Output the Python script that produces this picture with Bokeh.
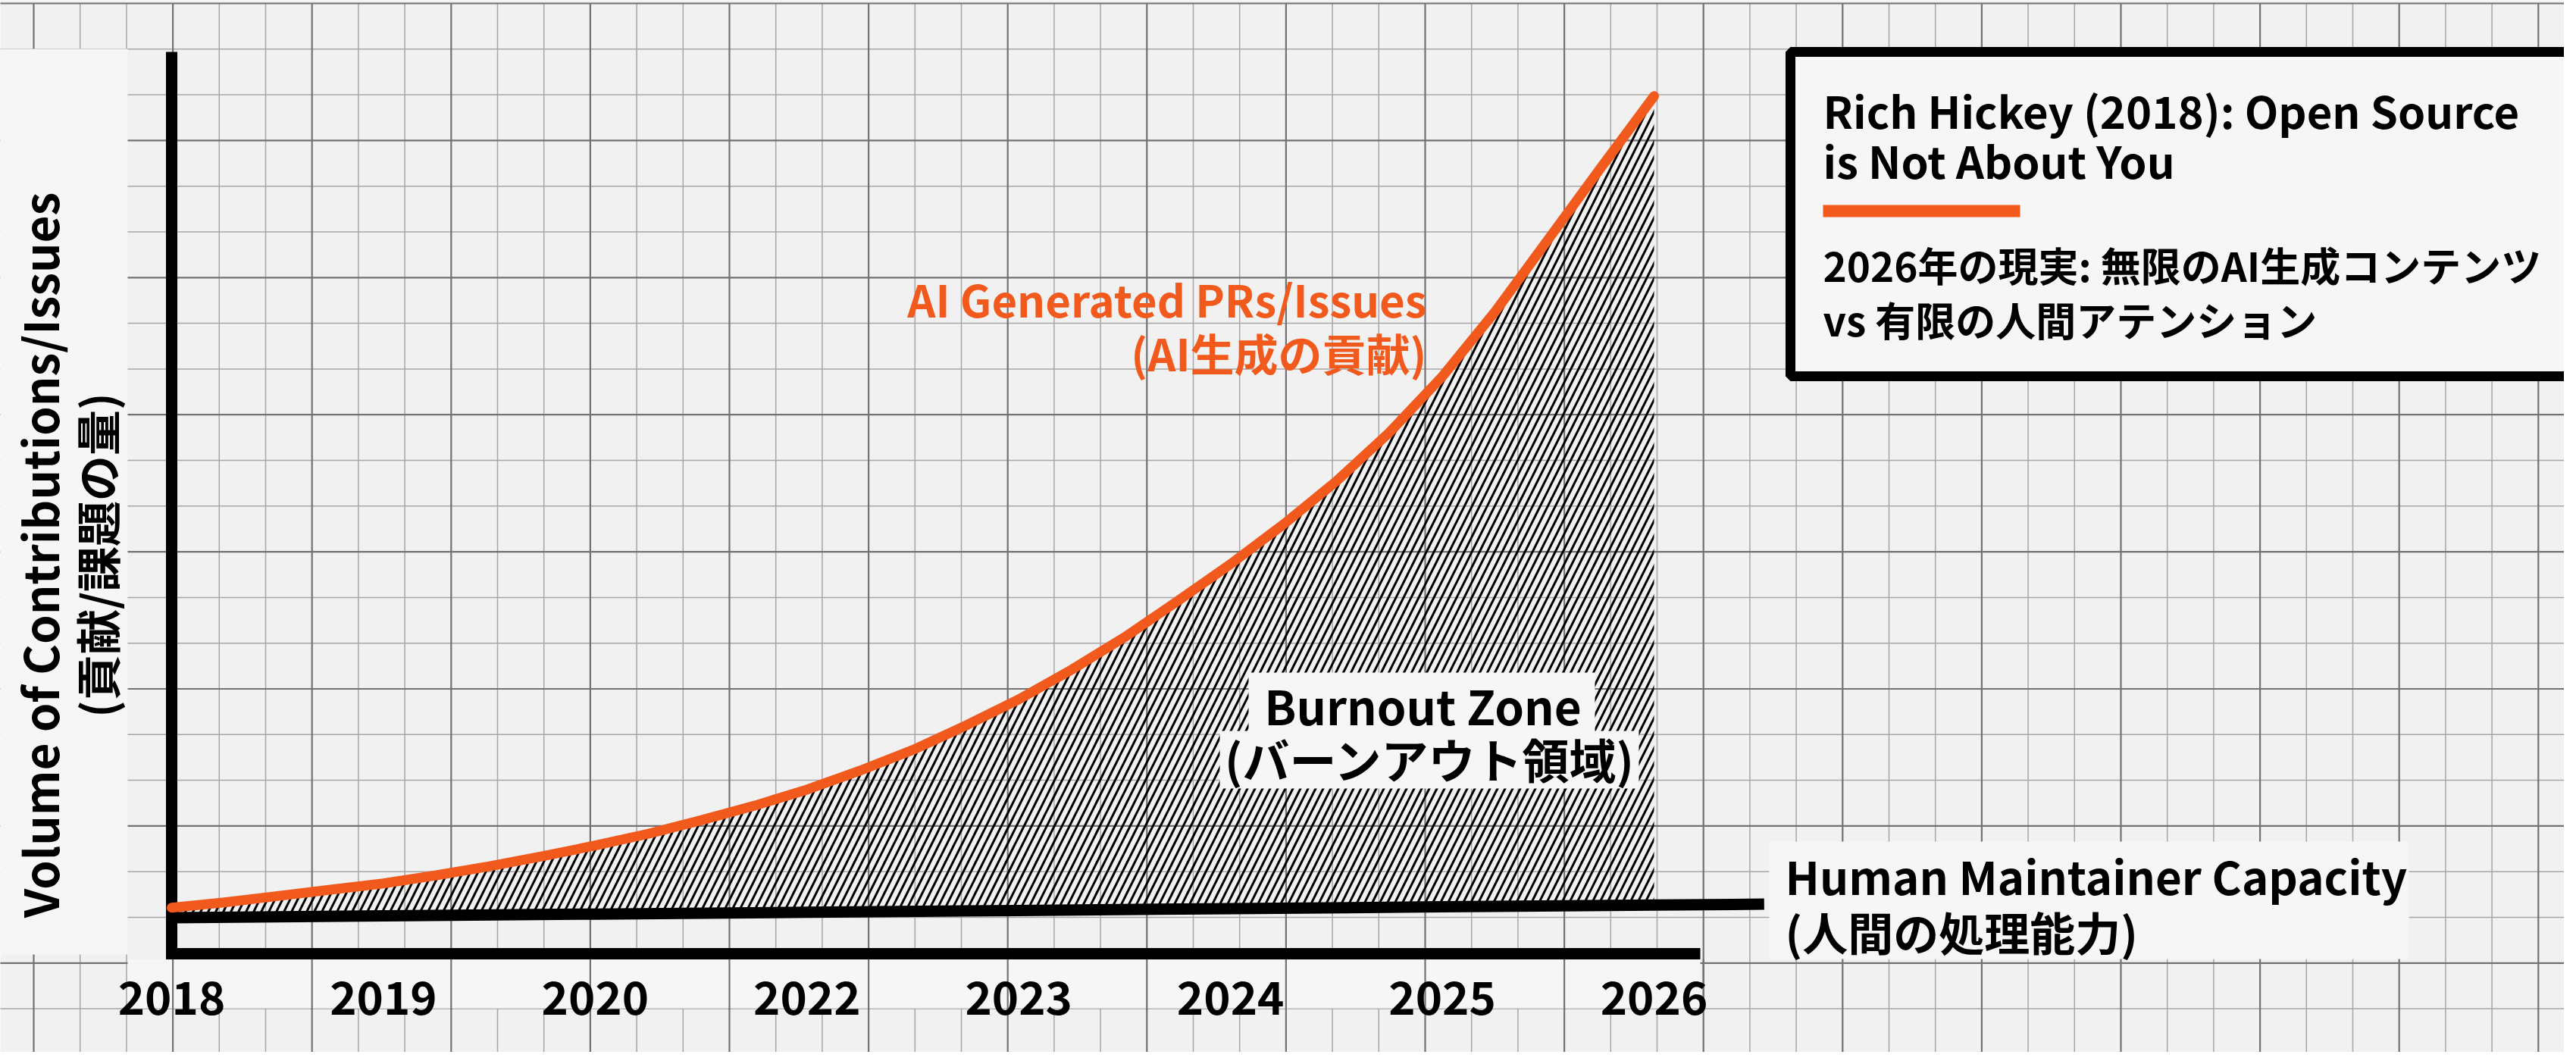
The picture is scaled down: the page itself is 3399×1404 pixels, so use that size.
import numpy as np
from bokeh.plotting import figure
from bokeh.models import Range1d, Label
from bokeh.core.properties import value
from bokeh.embed import file_html
from bokeh.resources import INLINE

# ---------------- data ----------------
years = ["2018", "2019", "2020", "2022", "2023", "2024", "2025", "2026"]
year_pos = [0, 1, 2, 3, 4, 5, 6, 7]

ai_x = [0, 0.25, 0.5, 0.75, 1, 1.25, 1.5, 1.75, 2, 2.25, 2.5, 2.75, 3, 3.25, 3.5,
        3.75, 4, 4.25, 4.5, 4.75, 5, 5.25, 5.5, 5.75, 6, 6.25, 6.5, 6.75, 7]
ai_volume = [5.1, 5.7, 6.4, 7.1, 7.8, 8.7, 9.7, 10.8, 12.0, 13.3, 14.8, 16.4, 18.2, 20.3, 22.6,
             25.3, 28.2, 31.5, 35.1, 39.1, 43.2, 47.6, 52.4, 57.8, 64.0, 71.2, 79.2, 87.2, 95.1]

human_x = [0, 1, 2, 3, 4, 5, 6, 7, 7.52]
human_capacity = [4.0, 4.2, 4.4, 4.6, 4.8, 5.0, 5.2, 5.4, 5.5]

y_title = ["Volume of Contributions/Issues", "(貢献/課題の量)"]
ai_label = ["AI Generated PRs/Issues", "(AI生成の貢献)"]
burnout_label = ["Burnout Zone", "(バーンアウト領域)"]
human_label = ["Human Maintainer Capacity", "(人間の処理能力)"]
box_title = ["Rich Hickey (2018): Open Source", "is Not About You"]
box_sub = ["2026年の現実: 無限のAI生成コンテンツ", "vs 有限の人間アテンション"]

# ---------------- layout / styles ----------------
W, H = 3383, 1388
X0_PAGE, Y0_PAGE = 234.0, 1266.0          # page position of (2018, 0)
PX_X = (2190.0 - 234.0) / 7.0             # page px per year step
PX_Y = (1266.0 - 76.0) / 100.0            # page px per volume unit
AXIS_TOP = 100.0
X_END = (2251.0 - X0_PAGE) / PX_X

FONT = "Noto Sans CJK JP"
ORANGE = "#F25A1D"
PAPER = "#F1F1F1"
PATCH = "#F6F6F6"
MINOR = "#a6a6a6"
MAJOR = "#727272"

p = figure(
    width=W, height=H, output_backend="svg", toolbar_location=None,
    x_range=Range1d((8 - X0_PAGE) / PX_X, (8 + W - X0_PAGE) / PX_X),
    y_range=Range1d((Y0_PAGE - (8 + H)) / PX_Y, (Y0_PAGE - 8) / PX_Y),
    x_axis_type=None, y_axis_type=None, min_border=0,
    outline_line_color=None, background_fill_color=PAPER, border_fill_color=PAPER,
)
p.grid.visible = False
p.extra_x_ranges = {"page": Range1d(8, 8 + W)}
p.extra_y_ranges = {"page": Range1d(8 + H, 8)}
PG = dict(x_range_name="page", y_range_name="page")

# ---------------- graph paper ----------------
vx = 52 + 61.2 * np.arange(0, 56)
hy = 12 + 60.3 * np.arange(0, 24)
minor_v = [x for i, x in enumerate(vx) if i % 3]
major_v = [x for i, x in enumerate(vx) if i % 3 == 0]
minor_h = [y for i, y in enumerate(hy) if i % 3]
major_h = [y for i, y in enumerate(hy) if i % 3 == 0]
p.segment(x0=minor_v, y0=12, x1=minor_v, y1=1410, line_color=MINOR, line_width=1.5, **PG)
p.segment(x0=0, y0=minor_h, x1=3400, y1=minor_h, line_color=MINOR, line_width=1.5, **PG)
p.segment(x0=major_v, y0=12, x1=major_v, y1=1410, line_color=MAJOR, line_width=2.2, **PG)
p.segment(x0=0, y0=major_h, x1=3400, y1=major_h, line_color=MAJOR, line_width=2.2, **PG)

# blank patches on the paper
p.quad(left=[0, 2342], right=[176, 3186], top=[72, 1118], bottom=[1267, 1273],
       fill_color=PATCH, line_color=None, **PG)
p.quad(left=176, right=2251, top=1273, bottom=1338, fill_color=PATCH, line_color=None, **PG)
band_v = [x for x in major_v if 176 < x < 2260]
p.segment(x0=band_v, y0=1273, x1=band_v, y1=1340, line_color=MAJOR, line_width=2.2, **PG)

# ---------------- burnout zone (hatched): between AI curve and capacity line ----------------
n_cap = human_x.index(7)
zone_x = ai_x + human_x[:n_cap + 1][::-1]
zone_y = ai_volume + human_capacity[:n_cap + 1][::-1]
p.patch(zone_x, zone_y, fill_color=None, fill_alpha=0, line_color=None,
        hatch_pattern="/", hatch_color="black", hatch_weight=3.0, hatch_scale=20)

# label backgrounds inside the zone
p.quad(left=[1655, 1617], right=[2112, 2170], top=[895, 972], bottom=[975, 1048],
       fill_color=PATCH, line_color=None, **PG)

# ---------------- axes ----------------
p.segment(x0=[0, -7.5 / PX_X], y0=[AXIS_TOP, 0], x1=[0, X_END], y1=[-7.5 / PX_Y, 0],
          line_color="black", line_width=15, line_cap="butt")

# ---------------- series ----------------
p.line(human_x, human_capacity, line_color="black", line_width=15, line_cap="butt")
p.line(ai_x, ai_volume, line_color=ORANGE, line_width=13, line_cap="round", line_join="round")

# x tick labels
p.text(x=year_pos, y=1324, text=years, y_range_name="page",
       text_font=value(FONT), text_font_style="bold", text_font_size="60px",
       text_align="center", text_baseline="middle", text_color="black")


def lab(txt, x, y, size, align="left", color="black", angle=0.0):
    p.add_layout(Label(x=x, y=y, text=txt, text_font=FONT, text_font_style="bold",
                       text_font_size=size, text_align=align, text_baseline="middle",
                       text_color=color, angle=angle, **PG))


# y title
lab(y_title[0], 58, 740, "62px", align="center", angle=np.pi / 2)
lab(y_title[1], 134, 740, "60px", align="center", angle=np.pi / 2)

# AI label
lab(ai_label[0], 1890, 401, "58px", align="right", color=ORANGE)
lab(ai_label[1], 1890, 472, "58px", align="right", color=ORANGE)

# Burnout
lab(burnout_label[0], 1885, 937, "62px", align="center")
lab(burnout_label[1], 1895, 1008, "62px", align="center")

# Human label
lab(human_label[0], 2363, 1162, "60px")
lab(human_label[1], 2363, 1236, "60px")

# ---------------- info box ----------------
p.quad(left=2370, right=3450, top=76, bottom=504, fill_color=PATCH,
       line_color="black", line_width=13, **PG)
p.quad(left=2413, right=2673, top=278, bottom=294, fill_color=ORANGE, line_color=None, **PG)
lab(box_title[0], 2413, 152, "58px")
lab(box_title[1], 2413, 218, "58px")
lab(box_sub[0], 2413, 356, "53px")
lab(box_sub[1], 2413, 428, "53px")

open("out.html", "w").write(file_html(p, INLINE))
